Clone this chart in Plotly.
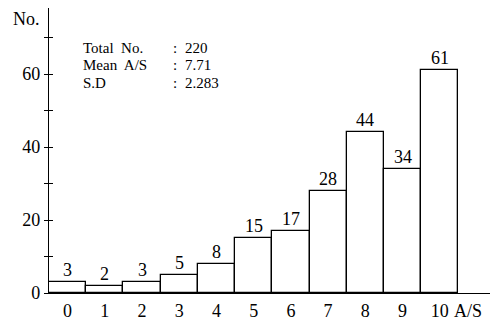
import plotly.graph_objects as go

categories = [0, 1, 2, 3, 4, 5, 6, 7, 8, 9, 10]
counts = [3, 2, 3, 5, 8, 15, 17, 28, 44, 34, 61]
stat_names = ["Total\u00a0 No.", "Mean\u00a0 A/S", "S.D"]
stat_values = ["220", "7.71", "2.283"]
y_ticks = [0, 20, 40, 60]
minor_ticks = [0, 10, 20, 30, 40, 50, 60, 70]

FONT = "Liberation Serif"

# page geometry (the page body adds an 8px offset, compensated in the margins)
PX0, PX1, PY0, PY1 = 49, 490, 8, 293   # plot area in page pixels
PW, PH = PX1 - PX0, PY1 - PY0
def px(x):
    return (x - PX0) / PW
def py(y):
    return (PY1 - y) / PH

fig = go.Figure()
fig.add_trace(go.Bar(
    x=categories, y=counts, width=1.0,
    marker=dict(color="white", line=dict(color="black", width=1.3)),
    showlegend=False, hoverinfo="skip",
))
fig.add_trace(go.Scatter(x=[categories[0]], y=[0], yaxis="y2", mode="markers",
                         marker=dict(opacity=0), showlegend=False, hoverinfo="skip"))

for c, v in zip(categories, counts):
    fig.add_annotation(x=c, y=v, text=str(v), showarrow=False, yanchor="bottom",
                       yshift=0, font=dict(family=FONT, size=18, color="black"))

yr = [0, PH / 3.65]
fig.update_layout(
    width=492, height=312,
    margin=dict(l=41, r=10, t=0, b=27, autoexpand=False),
    paper_bgcolor="white", plot_bgcolor="white",
    bargap=0,
    font=dict(family=FONT, size=18, color="black"),
    xaxis=dict(range=[-0.5, 11.35], tickvals=categories, ticktext=[str(c) for c in categories],
               showline=True, linecolor="black", linewidth=1.3, ticks="", showgrid=False,
               zeroline=False, tickfont=dict(family=FONT, size=18), ticklabelstandoff=1,
               automargin=False),
    yaxis=dict(range=yr, tickvals=y_ticks, showline=True, linecolor="black", linewidth=1.3,
               ticks="outside", ticklen=4, tickwidth=1.3, tickcolor="black",
               minor=dict(tickvals=minor_ticks, ticks="outside", ticklen=4, tickwidth=1.3,
                          tickcolor="black"),
               showgrid=False, zeroline=False, tickfont=dict(family=FONT, size=18),
               automargin=False),
    yaxis2=dict(range=yr, overlaying="y", side="left", tickvals=minor_ticks,
                ticks="inside", ticklen=4, tickwidth=1.3, tickcolor="black",
                showticklabels=False, showgrid=False, zeroline=False, showline=False,
                automargin=False),
)

fig.add_annotation(xref="paper", yref="paper", x=px(11), y=py(19),
                   text="No.", showarrow=False, xanchor="left", yanchor="middle",
                   font=dict(family=FONT, size=18))
fig.add_annotation(xref="paper", yref="paper", x=px(452), y=py(311),
                   text="A/S", showarrow=False, xanchor="left", yanchor="middle",
                   font=dict(family=FONT, size=18))

for i, (n, v) in enumerate(zip(stat_names, stat_values)):
    yp = py(48 + i * 17.5)
    fig.add_annotation(xref="paper", yref="paper", x=px(81), y=yp, text=n,
                       showarrow=False, xanchor="left", yanchor="middle",
                       font=dict(family=FONT, size=15))
    fig.add_annotation(xref="paper", yref="paper", x=px(171), y=yp, text=":",
                       showarrow=False, xanchor="left", yanchor="middle",
                       font=dict(family=FONT, size=15))
    fig.add_annotation(xref="paper", yref="paper", x=px(183), y=yp, text=v,
                       showarrow=False, xanchor="left", yanchor="middle",
                       font=dict(family=FONT, size=15))

fig.write_html("out.html")
